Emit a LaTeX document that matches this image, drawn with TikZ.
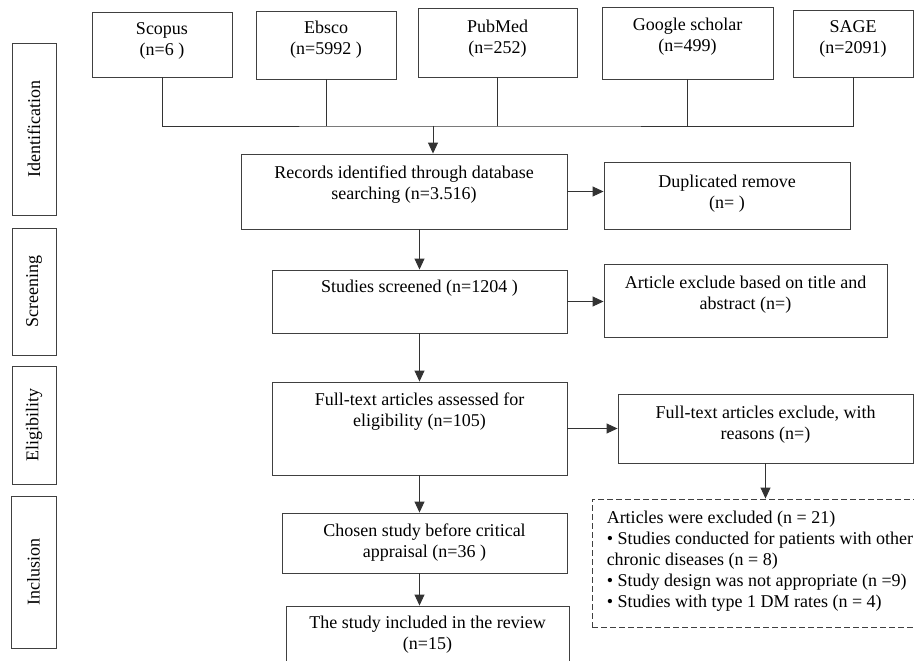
\documentclass[tikz,border=0pt]{standalone}
\usepackage{fontspec}
\setmainfont{Liberation Serif}
\usetikzlibrary{arrows.meta,positioning}

\begin{document}
\begin{tikzpicture}[x=1pt,y=-1pt,font=\fontsize{18}{21}\selectfont,>={Triangle[length=11pt,width=10pt]},
  box/.style={draw=black!75, line width=0.9pt, inner sep=0pt},
  txt/.style={anchor=north, align=center, inner sep=0pt},
  phase/.style={draw=black!75, line width=0.9pt, minimum width=44pt},
  link/.style={line width=0.9pt, black!80}]
\useasboundingbox (0,0) rectangle (914,661);
\clip (0,0) rectangle (914,661);
% phase labels on the left
\node[phase, minimum height=172pt] (idlab) at (34,129) {};\node[rotate=90] (idtxt) at (idlab) {Identification};
\node[phase, minimum height=127pt] (scrlab) at (34,291.5) {};\node[rotate=90] (scrtxt) at (scrlab) {Screening};
\node[phase, minimum height=118pt] (elilab) at (34,425) {};\node[rotate=90] (elitxt) at (elilab) {Eligibility};
\node[phase, minimum height=152pt, minimum width=45pt] (inclab) at (33.5,572) {};\node[rotate=90] (inctxt) at (inclab) {Inclusion};
% databases
\node[box, minimum width=140pt, minimum height=65pt] (scopus) at (162,44.5) {};\node[txt] (scopustxt) at ([yshift=-11pt]scopus.north) {Scopus\\(n=6 )};
\node[box, minimum width=140pt, minimum height=68pt] (ebsco) at (326,45) {};\node[txt] (ebscotxt) at ([yshift=-10pt]ebsco.north) {Ebsco\\(n=5992 )};
\node[box, minimum width=159pt, minimum height=69pt] (pubmed) at (497.5,42.5) {};\node[txt] (pubmedtxt) at ([yshift=-12pt]pubmed.north) {PubMed\\(n=252)};
\node[box, minimum width=171pt, minimum height=72pt] (google) at (687.5,43) {};\node[txt] (googletxt) at ([yshift=-11pt]google.north) {Google scholar\\(n=499)};
\node[box, minimum width=120pt, minimum height=67pt] (sage) at (853,43.5) {};\node[txt] (sagetxt) at ([yshift=-11pt]sage.north) {SAGE\\(n=2091)};
\coordinate (bus) at (433,126);
\draw[link] (scopus.south) |- (bus) -| (sage.south);
\foreach \db in {ebsco,pubmed,google}\draw[link] (\db.south) -- (\db.south |- bus);
% main flow
\node[box, minimum width=326pt, minimum height=75pt] (records) at (404,191.5) {};\node[txt] (recordstxt) at ([yshift=-12pt]records.north) {Records identified through database\\searching (n=3.516)};
\node[box, minimum width=246pt, minimum height=67pt] (dup) at (727,195.5) {};\node[txt] (duptxt) at ([yshift=-13pt]dup.north) {Duplicated remove\\(n= )};
\node[box, minimum width=295pt, minimum height=63pt] (screened) at (419.5,301.5) {};\node[txt] (screenedtxt) at ([yshift=-10pt]screened.north) {Studies screened (n=1204 )};
\node[box, minimum width=283pt, minimum height=73pt] (titleexc) at (745.5,300.5) {};\node[txt] (titleexctxt) at ([yshift=-12pt]titleexc.north) {Article exclude based on title and\\abstract (n=)};
\node[box, minimum width=295pt, minimum height=93pt] (fulltext) at (419.5,428.5) {};\node[txt] (fulltexttxt) at ([yshift=-11pt]fulltext.north) {Full-text articles assessed for\\eligibility (n=105)};
\node[box, minimum width=295pt, minimum height=69pt] (ftexc) at (765.5,428.5) {};\node[txt] (ftexctxt) at ([yshift=-12pt]ftexc.north) {Full-text articles exclude, with\\reasons (n=)};
\node[box, minimum width=285pt, minimum height=60pt] (chosen) at (424.5,543) {};\node[txt] (chosentxt) at ([yshift=-11pt]chosen.north) {Chosen study before critical\\appraisal (n=36 )};
\node[box, minimum width=283pt, minimum height=74pt] (included) at (427.5,643) {};\node[txt] (includedtxt) at ([yshift=-10pt]included.north) {The study included in the review\\(n=15)};
\node[box, dash pattern=on 6pt off 3pt, minimum width=338pt, minimum height=128pt] (excl) at (761,563) {};
\node[anchor=north west, align=left, inner sep=0pt] (excltxt) at ([xshift=15pt,yshift=-12pt]excl.north west) {Articles were excluded (n = 21)\\\textbullet{} Studies conducted for patients with other\\chronic diseases (n = 8)\\\textbullet{} Study design was not appropriate (n =9)\\\textbullet{} Studies with type 1 DM rates (n = 4)};
% arrows
\draw[link,->] (bus) -- (bus |- records.north);
\draw[link,->] (records.east) -- (records.east -| dup.west);
\draw[link,->] (records.south -| screened.north) -- (screened.north);
\draw[link,->] (screened.east) -- (screened.east -| titleexc.west);
\draw[link,->] (screened.south) -- (fulltext.north);
\draw[link,->] (fulltext.east) -- (ftexc.west);
\draw[link,->] (ftexc.south) -- (ftexc.south |- excl.north);
\draw[link,->] (fulltext.south) -- (fulltext.south |- chosen.north);
\draw[link,->] (chosen.south -| fulltext.south) -- (fulltext.south |- included.north);
\end{tikzpicture}
\end{document}
